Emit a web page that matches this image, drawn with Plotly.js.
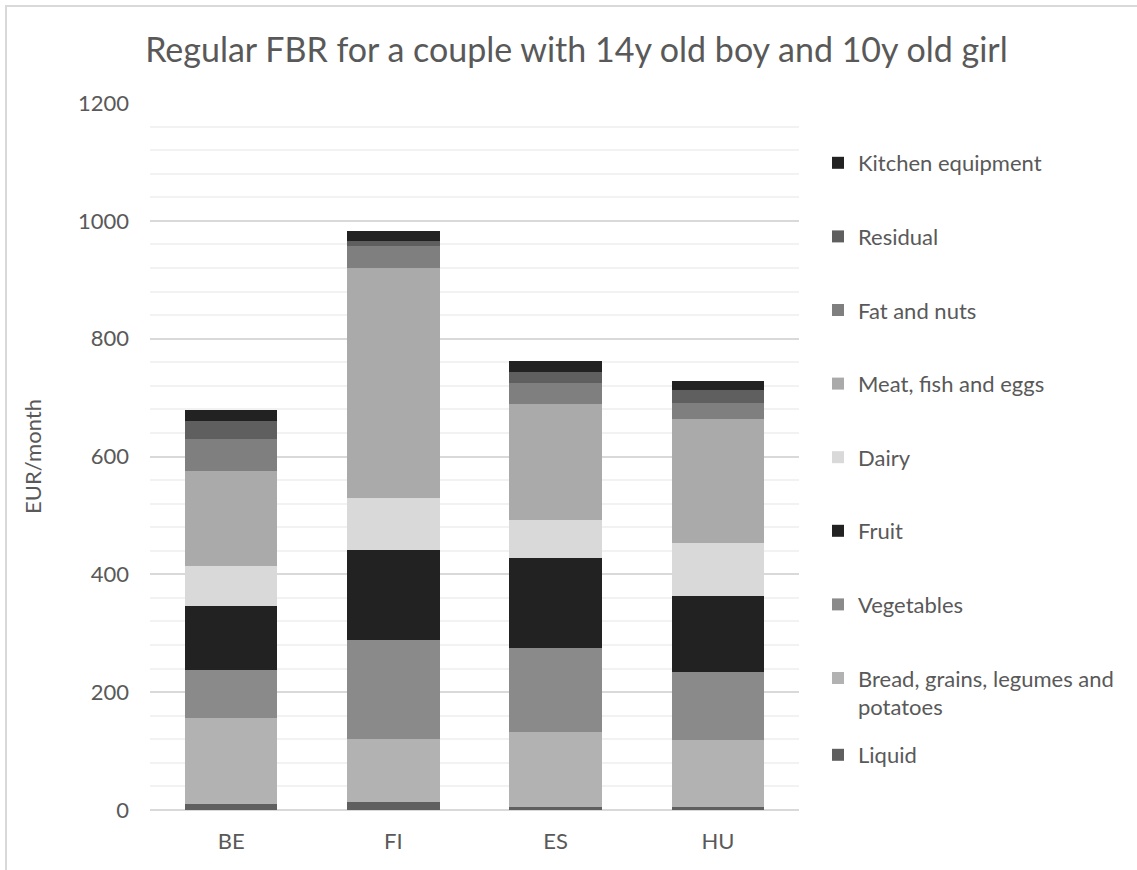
<!DOCTYPE html>
<html>
<head>
<meta charset="utf-8">
<script src="https://cdn.plot.ly/plotly-3.0.1.min.js"></script>
<style>
  html, body { margin: 0; padding: 0; background: #ffffff; }
  #wrap { position: relative; width: 1137px; height: 870px; overflow: hidden; }
  #chart { position: absolute; left: 0; top: 0; width: 1137px; height: 870px; }
  #frame { position: absolute; left: 5px; top: 5px; width: 1140px; height: 880px;
           border-top: 2px solid #d9d9d9; border-left: 2px solid #d9d9d9; pointer-events: none; }
</style>
</head>
<body>
<div id="wrap">
  <div id="chart"></div>
  <div id="frame"></div>
</div>
<script>
// ---- data (EUR/month) ----
const categories = ['BE', 'FI', 'ES', 'HU'];
const seriesNames = ['Liquid', 'Bread, grains, legumes and<br>potatoes', 'Vegetables', 'Fruit', 'Dairy',
                     'Meat, fish and eggs', 'Fat and nuts', 'Residual', 'Kitchen equipment'];
const liquid     = [11, 14, 5, 5];
const bread      = [146, 106, 128, 113];
const vegetables = [80, 168, 142, 117];
const fruit      = [109, 153, 152, 129];
const dairy      = [68, 89, 66, 89];
const meat       = [161, 390, 196, 210];
const fatNuts    = [54, 37, 35, 28];
const residual   = [32, 9, 20, 22];
const kitchen    = [18, 17, 18, 16];
const yTickVals  = [0, 200, 400, 600, 800, 1000, 1200];

// ---- styles ----
const seriesValues = [liquid, bread, vegetables, fruit, dairy, meat, fatNuts, residual, kitchen];
const seriesColors = ['#5f5f5f', '#b2b2b2', '#8a8a8a', '#222222', '#d9d9d9',
                      '#aaaaaa', '#7f7f7f', '#5f5f5f', '#222222'];
const FONT = 'Lato, "Open Sans", sans-serif';
const TXT = '#595959';

const traces = seriesValues.map((vals, i) => ({
  type: 'bar',
  name: seriesNames[i],
  x: categories,
  y: vals,
  legendgroup: 'g' + i,
  legendrank: seriesValues.length - i,
  legend: i === 0 ? 'legend2' : 'legend',
  marker: { color: seriesColors[i], line: { width: 0 } },
  hoverinfo: 'x+y+name'
}));

const legendStyle = {
  traceorder: 'grouped',
  tracegroupgap: 42,
  xref: 'container', x: 818 / 1137, xanchor: 'left',
  yref: 'container', yanchor: 'top',
  bgcolor: 'rgba(0,0,0,0)',
  borderwidth: 0,
  maxheight: 860,
  font: { family: FONT, size: 22, color: TXT },
  valign: 'top'
};

const layout = {
  width: 1137,
  height: 870,
  paper_bgcolor: '#ffffff',
  plot_bgcolor: '#ffffff',
  barmode: 'stack',
  bargap: 0.43,
  margin: { l: 150, r: 338, t: 103, b: 60, pad: 0 },
  font: { family: FONT, color: TXT, size: 22 },
  title: {
    text: 'Regular FBR for a couple with 14y old boy and 10y old girl',
    font: { family: FONT, size: 34, color: TXT },
    x: 0.507, xref: 'container', xanchor: 'center',
    y: 1 - 50 / 870, yref: 'container', yanchor: 'middle'
  },
  xaxis: {
    type: 'category',
    showgrid: false,
    showline: false,
    zeroline: false,
    ticks: '',
    tickfont: { family: FONT, size: 22, color: TXT },
    ticklabelstandoff: 16
  },
  yaxis: {
    range: [0, 1200],
    tickvals: yTickVals,
    ticktext: yTickVals.map(String),
    showgrid: true,
    gridcolor: '#d9d9d9',
    gridwidth: 2,
    zeroline: true,
    zerolinecolor: '#d9d9d9',
    zerolinewidth: 2,
    showline: false,
    ticks: '',
    ticklabelstandoff: 20,
    tickfont: { family: FONT, size: 22, color: TXT },
    minor: { dtick: 40, showgrid: true, gridcolor: '#f2f2f2', gridwidth: 2 },
    title: { text: 'EUR/month', font: { family: FONT, size: 22, color: TXT }, standoff: 30 }
  },
  showlegend: true,
  legend: Object.assign({}, legendStyle, { y: 1 - 142 / 870 }),
  legend2: Object.assign({}, legendStyle, { y: 1 - 734 / 870 })
};

Plotly.newPlot('chart', traces, layout, { displayModeBar: false, staticPlot: true });
</script>
</body>
</html>
